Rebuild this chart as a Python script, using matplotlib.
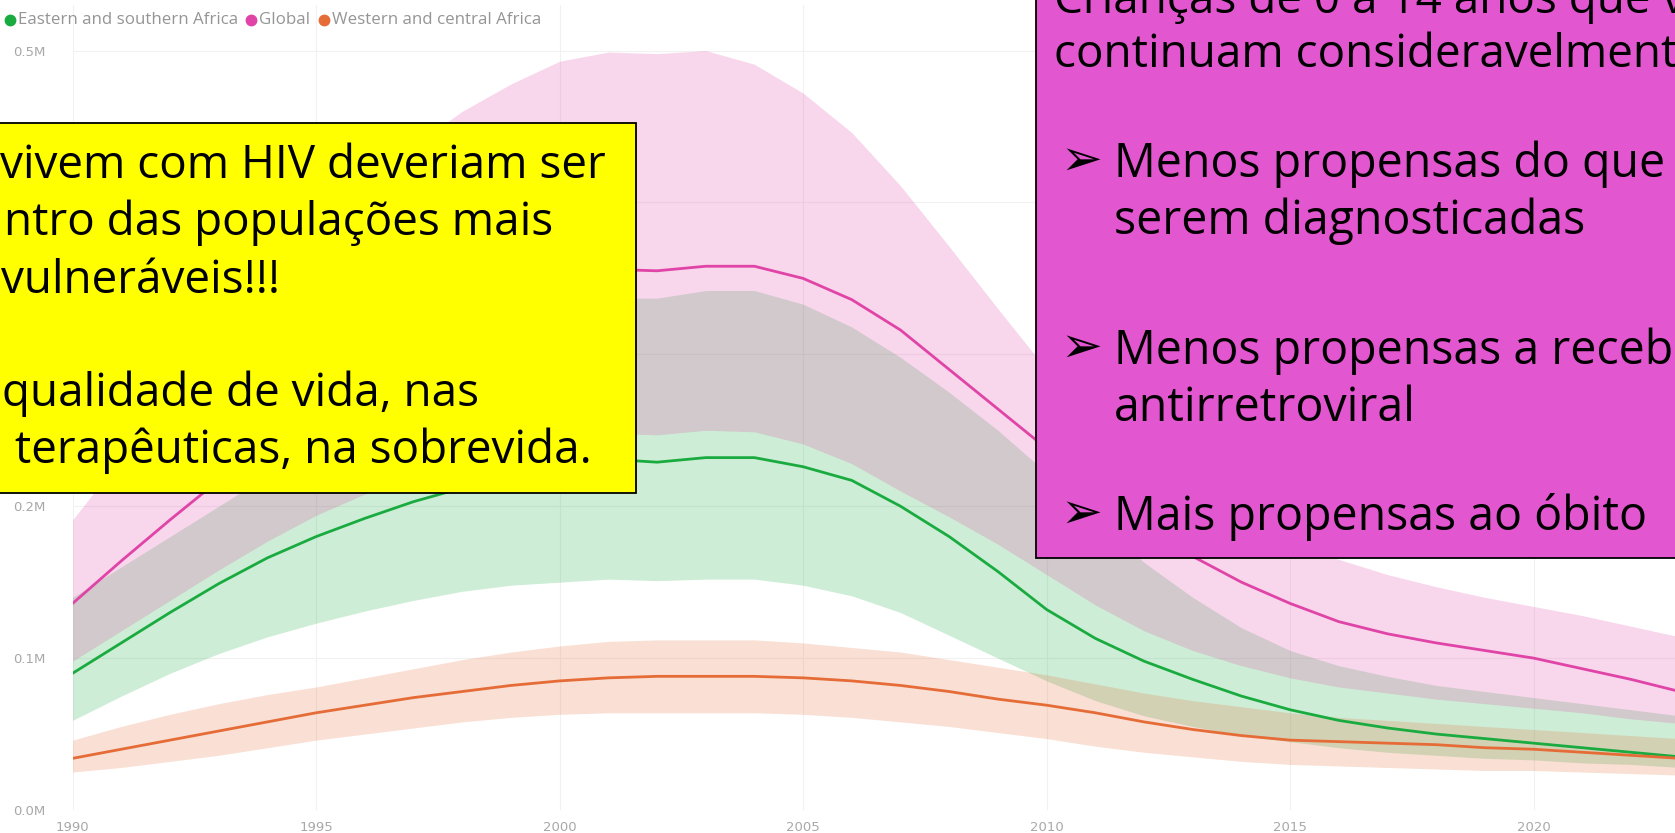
import matplotlib
matplotlib.use('Agg')
import matplotlib.pyplot as plt
from matplotlib.patches import Rectangle

# Crianças (0-14) vivendo com HIV, em milhões
anos = list(range(1990, 2024))

esa_mid = [0.090, 0.110, 0.130, 0.149, 0.166, 0.180, 0.192, 0.203, 0.212, 0.220,
           0.226, 0.231, 0.229, 0.232, 0.232, 0.226, 0.217, 0.200, 0.180, 0.157,
           0.132, 0.113, 0.098, 0.086, 0.075, 0.066, 0.059, 0.054, 0.050, 0.047,
           0.044, 0.041, 0.038, 0.035]
esa_low = [0.059, 0.075, 0.090, 0.103, 0.114, 0.123, 0.131, 0.138, 0.144, 0.148,
           0.150, 0.152, 0.151, 0.152, 0.152, 0.148, 0.141, 0.130, 0.115, 0.100,
           0.085, 0.072, 0.062, 0.055, 0.049, 0.045, 0.041, 0.038, 0.036, 0.034,
           0.033, 0.031, 0.030, 0.028]
esa_high = [0.140, 0.160, 0.180, 0.200, 0.220, 0.240, 0.260, 0.280, 0.298, 0.314,
            0.327, 0.337, 0.337, 0.342, 0.342, 0.333, 0.318, 0.298, 0.275, 0.250,
            0.222, 0.192, 0.163, 0.140, 0.120, 0.105, 0.095, 0.088, 0.082, 0.078,
            0.074, 0.070, 0.066, 0.062]

glob_mid = [0.136, 0.164, 0.191, 0.217, 0.241, 0.263, 0.283, 0.301, 0.318, 0.333,
            0.346, 0.356, 0.355, 0.358, 0.358, 0.350, 0.336, 0.316, 0.290, 0.264,
            0.238, 0.213, 0.190, 0.167, 0.150, 0.136, 0.124, 0.116, 0.110, 0.105,
            0.100, 0.093, 0.086, 0.078]
glob_low = [0.098, 0.118, 0.138, 0.158, 0.177, 0.194, 0.208, 0.220, 0.230, 0.238,
            0.244, 0.248, 0.247, 0.250, 0.249, 0.241, 0.228, 0.210, 0.193, 0.175,
            0.155, 0.135, 0.118, 0.105, 0.095, 0.087, 0.081, 0.077, 0.073, 0.070,
            0.067, 0.064, 0.060, 0.057]
glob_high = [0.191, 0.232, 0.272, 0.310, 0.346, 0.380, 0.410, 0.437, 0.460, 0.478,
             0.493, 0.499, 0.498, 0.500, 0.491, 0.472, 0.446, 0.411, 0.371, 0.330,
             0.290, 0.260, 0.235, 0.210, 0.192, 0.178, 0.165, 0.155, 0.147, 0.140,
             0.134, 0.128, 0.121, 0.114]

wca_mid = [0.034, 0.040, 0.046, 0.052, 0.058, 0.064, 0.069, 0.074, 0.078, 0.082,
           0.085, 0.087, 0.088, 0.088, 0.088, 0.087, 0.085, 0.082, 0.078, 0.073,
           0.069, 0.064, 0.058, 0.053, 0.049, 0.046, 0.045, 0.044, 0.043, 0.041,
           0.040, 0.038, 0.036, 0.034]
wca_low = [0.025, 0.028, 0.032, 0.036, 0.041, 0.046, 0.050, 0.054, 0.058, 0.061,
           0.063, 0.064, 0.064, 0.064, 0.064, 0.063, 0.061, 0.058, 0.055, 0.051,
           0.047, 0.042, 0.038, 0.035, 0.032, 0.030, 0.029, 0.028, 0.027, 0.026,
           0.026, 0.025, 0.024, 0.023]
wca_high = [0.046, 0.055, 0.063, 0.070, 0.076, 0.081, 0.087, 0.093, 0.099, 0.104,
            0.108, 0.111, 0.112, 0.112, 0.112, 0.110, 0.107, 0.104, 0.099, 0.094,
            0.089, 0.083, 0.077, 0.072, 0.068, 0.064, 0.061, 0.059, 0.057, 0.055,
            0.053, 0.051, 0.049, 0.047]

regioes = ['Eastern and southern Africa', 'Global', 'Western and central Africa']
cores = ['#1AAB40', '#E044A7', '#E66C37']
xticks = [1990, 1995, 2000, 2005, 2010, 2015, 2020]
yticks = [0.0, 0.1, 0.2, 0.3, 0.4, 0.5]
# 0.3M e 0.4M ficam escondidos atrás da caixa amarela
ylabels = ['0.0M', '0.1M', '0.2M', '', '', '0.5M']

texto_amarelo = ['vivem com HIV deveriam ser', 'ntro das populações mais',
                 'vulneráveis!!!', 'qualidade de vida, nas', ' terapêuticas, na sobrevida.']
texto_rosa = ['Crianças de 0 a 14 anos que v', 'continuam consideravelment']
bullets = [['Menos propensas do que', 'serem diagnosticadas'],
           ['Menos propensas a receb', 'antirretroviral'],
           ['Mais propensas ao óbito']]

W, H = 1675, 833
def fx(px):
    return px / W
def fy(py):
    return 1 - py / H

fig = plt.figure(figsize=(W / 100, H / 100), dpi=100)
fig.patch.set_facecolor('white')

ax = fig.add_axes([fx(72.6), fy(810), 1 - fx(72.6), (810 - 5) / H])
series = [(esa_low, esa_mid, esa_high), (glob_low, glob_mid, glob_high),
          (wca_low, wca_mid, wca_high)]
for (lo, mid, hi), cor in zip(series, cores):
    ax.fill_between(anos, [v * 1e6 for v in lo], [v * 1e6 for v in hi],
                    color=cor, alpha=0.21, lw=0, zorder=1)
for (lo, mid, hi), cor in zip(series, cores):
    ax.plot(anos, [v * 1e6 for v in mid], color=cor, lw=2.0, zorder=3)

ax.set_xlim(1990, 1990 + (W - 72.6) / 48.7)
ax.set_ylim(0, 530000)
ax.set_xticks(xticks)
ax.set_xticklabels([str(x) for x in xticks])
ax.set_yticks([v * 1e6 for v in yticks])
ax.set_yticklabels(ylabels)
ax.tick_params(length=0, labelsize=9.5, labelcolor='#a8a8a8')
ax.tick_params(axis='y', pad=43)
ax.tick_params(axis='x', pad=8)
for lab in ax.get_yticklabels():
    lab.set_horizontalalignment('left')
ax.grid(color='#f1f1f1', lw=0.8)
ax.set_axisbelow(True)
for s in ax.spines.values():
    s.set_visible(False)

# legenda estilo Power BI
leg_x = [10, 251, 324]
for x0, nome, cor in zip(leg_x, regioes, cores):
    fig.lines.append(plt.Line2D([fx(x0)], [fy(20)], transform=fig.transFigure,
                                marker='o', ms=7.5, color=cor, lw=0))
    fig.text(fx(x0 + 8), fy(20), nome, fontsize=12.2, color='#959595',
             va='center', ha='left', family='Open Sans')

# caixa amarela
fig.add_artist(Rectangle((fx(-10), fy(493)), fx(636 + 10), (493 - 123) / H,
                         transform=fig.transFigure, facecolor='#FFFF00',
                         edgecolor='black', lw=1.3, zorder=5))
for txt, x0, yb in zip(texto_amarelo, [0, 4, 1, 2, 3], [178, 235, 293, 406, 463]):
    fig.text(fx(x0), fy(yb), txt, fontsize=33, family='Open Sans', color='black',
             va='baseline', ha='left', zorder=6)

# caixa rosa
fig.add_artist(Rectangle((fx(1036), fy(558)), fx(W + 20 - 1036), (558 + 20) / H,
                         transform=fig.transFigure, facecolor='#E256D0',
                         edgecolor='black', lw=1.3, zorder=5))
for txt, yb in zip(texto_rosa, [13, 67]):
    fig.text(fx(1054), fy(yb), txt, fontsize=33, family='Open Sans', color='black',
             va='baseline', ha='left', zorder=6)
y_bul = [177, 364, 530]
for linhas, yb in zip(bullets, y_bul):
    fig.text(fx(1060), fy(yb - 2), '\u27a2', fontsize=36, family='DejaVu Sans',
             color='black', va='baseline', ha='left', zorder=6)
    for i, txt in enumerate(linhas):
        fig.text(fx(1114), fy(yb + 57 * i), txt, fontsize=33.5, family='Open Sans',
                 color='black', va='baseline', ha='left', zorder=6)

fig.savefig('out.png', dpi=100)
